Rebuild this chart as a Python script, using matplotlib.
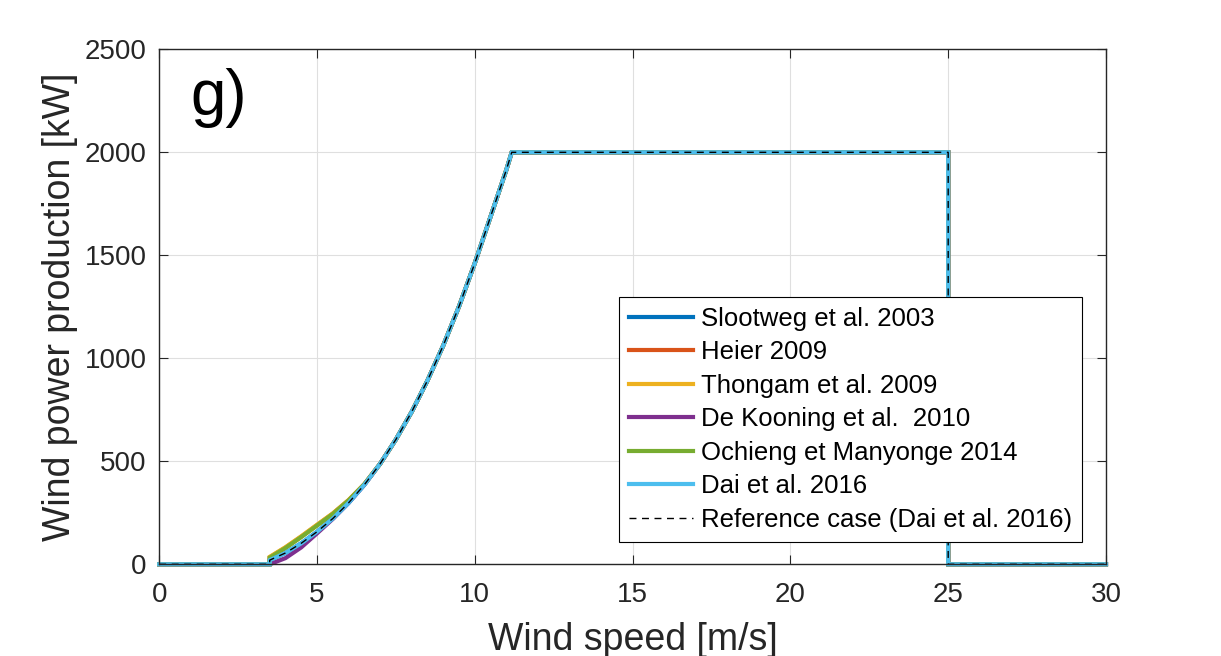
import numpy as np
import matplotlib
matplotlib.use("Agg")
import matplotlib.pyplot as plt

plt.rcParams['font.family'] = ['Liberation Sans', 'DejaVu Sans']

# wind speed grid [m/s] shared by all curves
wind_speed = [0, 3.5, 3.5, 4, 4.5, 5, 5.5, 6, 6.5, 7, 7.5, 8, 8.5, 9, 9.5, 10,
              10.5, 11, 11.17, 25, 25, 30]

# power [kW]
p_slootweg = [0, 0, 20, 55, 102, 158, 222, 298, 386, 488, 606, 740, 892, 1062,
              1252, 1462, 1688, 1915, 2000, 2000, 0, 0]
p_heier = [0, 0, 34, 81, 134, 190, 246, 311, 389, 488, 606, 740, 892, 1062,
           1252, 1462, 1688, 1915, 2000, 2000, 0, 0]
p_thongam = [0, 0, 36, 83, 136, 192, 247, 312, 389, 488, 606, 740, 892, 1062,
             1252, 1462, 1688, 1915, 2000, 2000, 0, 0]
p_dekooning = [0, 0, 0, 30, 82, 150, 220, 298, 386, 488, 606, 740, 892, 1062,
               1252, 1462, 1688, 1915, 2000, 2000, 0, 0]
p_ochieng = [0, 0, 32, 79, 132, 188, 244, 310, 389, 488, 606, 740, 892, 1062,
             1252, 1462, 1688, 1915, 2000, 2000, 0, 0]
p_dai = [0, 0, 20, 55, 102, 158, 222, 298, 386, 488, 606, 740, 892, 1062,
         1252, 1462, 1688, 1915, 2000, 2000, 0, 0]
p_reference = [0, 0, 20, 55, 102, 158, 222, 298, 386, 488, 606, 740, 892, 1062,
               1252, 1462, 1688, 1915, 2000, 2000, 0, 0]

labels = ['Slootweg et al. 2003', 'Heier 2009', 'Thongam et al. 2009',
          'De Kooning et al.  2010', 'Ochieng et Manyonge 2014', 'Dai et al. 2016']
colors = ['#0072BD', '#D95319', '#EDB120', '#7E2F8E', '#77AC30', '#4DBEEE']
series = [p_slootweg, p_heier, p_thongam, p_dekooning, p_ochieng, p_dai]

axcol = '#262626'

fig = plt.figure(figsize=(12.21, 6.56), dpi=100)
ax = fig.add_axes([0.1304, 0.1398, 0.7754, 0.785])

for p, lab, c in zip(series, labels, colors):
    ax.plot(wind_speed, p, color=c, lw=3, label=lab, clip_on=False,
            solid_joinstyle='miter')
ax.plot(wind_speed, p_reference, 'k--', lw=1.0, dashes=(5, 4),
        label='Reference case (Dai et al. 2016)', clip_on=False)

ax.set_xlim(0, 30)
ax.set_ylim(0, 2500)
ax.set_xticks([0, 5, 10, 15, 20, 25, 30])
ax.set_yticks([0, 500, 1000, 1500, 2000, 2500])
ax.grid(True, color='#dfdfdf', lw=0.8)
ax.set_axisbelow(True)
for s in ax.spines.values():
    s.set_color(axcol)
    s.set_linewidth(1.0)
ax.tick_params(axis='both', direction='in', length=6.5, width=0.8,
               colors=axcol, labelsize=20, top=True, right=True)
ax.tick_params(axis='x', pad=13)
ax.tick_params(axis='y', pad=9)

ax.set_xlabel('Wind speed [m/s]', fontsize=27, color=axcol, labelpad=10)
ax.set_ylabel('Wind power production [kW]', fontsize=27, color=axcol, labelpad=5)

ax.text(0.033, 0.872, 'g)', transform=ax.transAxes, fontsize=46,
        va='baseline', ha='left', color='black')

leg = ax.legend(loc='lower right', bbox_to_anchor=(0.975, 0.043), fontsize=18.5,
                handlelength=2.5, handletextpad=0.3, labelspacing=0.37,
                borderpad=0.4, borderaxespad=0, fancybox=False, framealpha=1)
leg.get_frame().set_edgecolor('black')
leg.get_frame().set_linewidth(0.8)

fig.savefig('out.png', dpi=100)
